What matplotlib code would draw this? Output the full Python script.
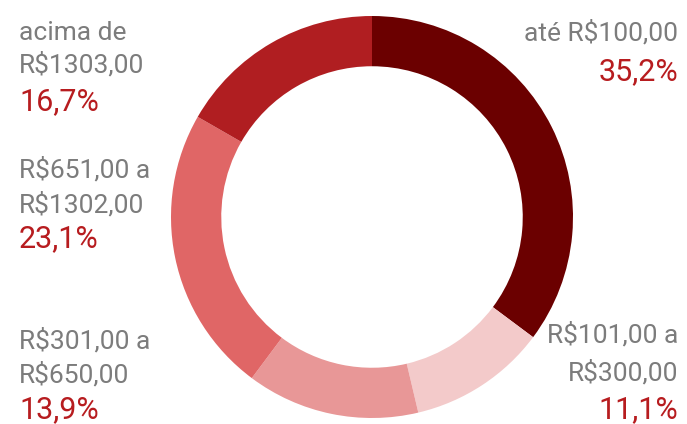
import matplotlib
matplotlib.use('Agg')
import matplotlib.pyplot as plt

categories = ['até R$100,00', 'R$101,00 a\nR$300,00', 'R$301,00 a\nR$650,00',
              'R$651,00 a\nR$1302,00', 'acima de\nR$1303,00']
shares = [35.2, 11.1, 13.9, 23.1, 16.7]
pct_labels = ['35,2%', '11,1%', '13,9%', '23,1%', '16,7%']
colors = ['#6b0000', '#f3caca', '#e89797', '#e06666', '#b01e21']

W, H = 687, 424
plt.rcParams['font.family'] = ['Roboto', 'DejaVu Sans']
fig = plt.figure(figsize=(W / 100, H / 100), dpi=100)

# donut: center (372, 217), outer radius ~201 px
cx, cy, r = 372, 217, 201
ax = fig.add_axes([(cx - r) / W, 1 - (cy + r) / H, 2 * r / W, 2 * r / H])
ax.pie(shares, colors=colors, startangle=90, counterclock=False,
       radius=1.0, wedgeprops=dict(width=0.25, linewidth=0))
ax.set_xlim(-1, 1)
ax.set_ylim(-1, 1)
ax.set_aspect('auto')
ax.axis('off')

gray = '#7c7c7c'
red = '#b71c1f'

# label anchors: (x px, baselines of category lines, baseline of pct, align)
spots = [
    (678, [40], 80, 'right'),
    (678, [343, 381], 418, 'right'),
    (19, [349, 383], 418, 'left'),
    (19, [178, 212], 247, 'left'),
    (19, [40, 73], 110, 'left'),
]

for cat, pct, (x, lines, pb, ha) in zip(categories, pct_labels, spots):
    for txt, yb in zip(cat.split('\n'), lines):
        fig.text(x / W, 1 - yb / H, txt, ha=ha, va='baseline',
                 fontsize=19, color=gray, fontweight='normal')
    fig.text(x / W, 1 - pb / H, pct, ha=ha, va='baseline',
             fontsize=22, color=red, fontweight='normal')

fig.savefig('out.png', dpi=100)
